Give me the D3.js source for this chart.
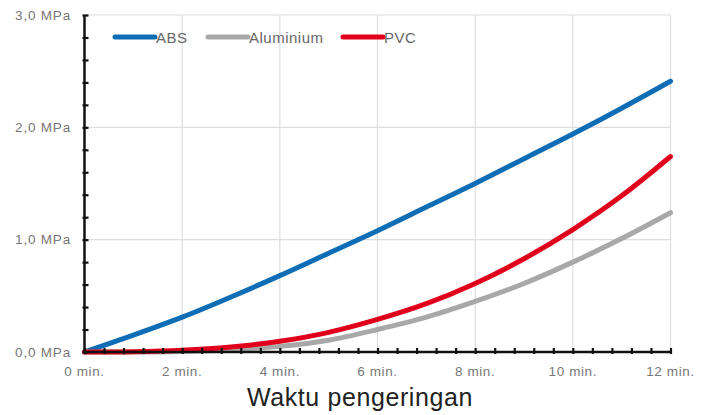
<!DOCTYPE html>
<html>
<head>
<meta charset="utf-8">
<script src="https://cdn.jsdelivr.net/npm/d3@7"></script>
<style>
  body { margin: 0; background: #fff; }
  text { font-family: "Liberation Sans", Arial, sans-serif; }
</style>
</head>
<body>
<svg id="chart" width="709" height="415"></svg>
<script>
// Drying time in minutes
const minutes = [0, 1, 2, 3, 4, 5, 6, 7, 8, 9, 10, 11, 12];

// Pressure in MPa
const absValues = [0, 0.15, 0.31, 0.49, 0.68, 0.88, 1.08, 1.29, 1.50, 1.72, 1.94, 2.17, 2.41];
const aluValues = [0, 0.0, 0.005, 0.02, 0.05, 0.105, 0.20, 0.31, 0.45, 0.61, 0.80, 1.01, 1.24];
const pvcValues = [0, 0.003, 0.016, 0.045, 0.095, 0.175, 0.29, 0.43, 0.61, 0.83, 1.09, 1.39, 1.74];

const seriesNames = ["ABS", "Aluminium", "PVC"];
const seriesColors = ["#0f6db5", "#a8a8a8", "#e1001c"];

const xTicks = [0, 2, 4, 6, 8, 10, 12];
const yTicks = [0, 1, 2, 3];

let svg = d3.select("#chart");

// Scales
let x = d3.scaleLinear().domain([0, 12]).range([84.5, 670.5]);
let y = d3.scaleLinear().domain([0, 3]).range([352, 15]);

// Grid lines
let grid = svg.append("g").attr("class", "grid");
grid.selectAll(".vgrid")
    .data(xTicks.slice(1))
    .enter().append("line")
    .attr("x1", d => x(d)).attr("x2", d => x(d))
    .attr("y1", y(3)).attr("y2", y(0))
    .style("stroke", "#dedede").style("stroke-width", 1.2);
grid.selectAll(".hgrid")
    .data(yTicks.slice(1))
    .enter().append("line")
    .attr("x1", x(0)).attr("x2", x(12))
    .attr("y1", d => y(d)).attr("y2", d => y(d))
    .style("stroke", "#dedede").style("stroke-width", 1.2);

// Lines
let series = [absValues, aluValues, pvcValues];
let lineGen = d3.line()
    .x((d, i) => x(minutes[i]))
    .y(d => y(d))
    .curve(d3.curveCatmullRom.alpha(0.5));

svg.append("g").selectAll("path")
    .data(series)
    .enter().append("path")
    .attr("d", lineGen)
    .style("fill", "none")
    .style("stroke", (d, i) => seriesColors[i])
    .style("stroke-width", 5)
    .style("stroke-linecap", "round");

// Axes with small crossing ticks
let xMinor = d3.range(0, 12.001, 0.4);
let yMinor = d3.range(0, 3.001, 0.2);

let xAxis = d3.axisBottom(x).tickValues(xMinor).tickSize(4).tickFormat("");
let yAxis = d3.axisLeft(y).tickValues(yMinor).tickSize(4).tickFormat("");

function styleAxis(g) {
    g.select(".domain").remove();
    g.selectAll(".tick line").style("stroke", "#111").style("stroke-width", 2.2);
}

let gx = svg.append("g")
    .attr("transform", `translate(0,${y(0) - 2})`)
    .call(xAxis.tickSizeOuter(0));
gx.selectAll(".tick line").attr("y1", -2).attr("y2", 4);
styleAxis(gx);

let gy = svg.append("g")
    .attr("transform", `translate(${x(0) + 2},0)`)
    .call(yAxis.tickSizeOuter(0));
gy.selectAll(".tick line").attr("x1", 2).attr("x2", -4);
styleAxis(gy);

svg.append("line")
    .attr("x1", x(0)).attr("x2", x(12))
    .attr("y1", y(0)).attr("y2", y(0))
    .style("stroke", "#111").style("stroke-width", 2.5);
svg.append("line")
    .attr("x1", x(0)).attr("x2", x(0))
    .attr("y1", y(0)).attr("y2", y(3))
    .style("stroke", "#111").style("stroke-width", 2.5);

// Tick labels
svg.append("g").selectAll("text")
    .data(xTicks)
    .enter().append("text")
    .attr("x", d => x(d))
    .attr("y", 376)
    .attr("text-anchor", "middle")
    .style("font-size", "13.5px")
    .style("letter-spacing", "0.6px")
    .style("fill", "#777")
    .text(d => d + " min.");

svg.append("g").selectAll("text")
    .data(yTicks)
    .enter().append("text")
    .attr("x", 71)
    .attr("y", d => y(d) + 4.5)
    .attr("text-anchor", "end")
    .style("font-size", "13.5px")
    .style("letter-spacing", "0.8px")
    .style("fill", "#777")
    .text(d => d3.format(".1f")(d).replace(".", ",") + " MPa");

// Axis title
svg.append("text")
    .attr("x", 360)
    .attr("y", 406)
    .attr("text-anchor", "middle")
    .style("font-size", "25px")
    .style("letter-spacing", "0.6px")
    .style("fill", "#222")
    .text("Waktu pengeringan");

// Legend
const legendX = [115, 208, 343];
let legend = svg.append("g").selectAll("g")
    .data(seriesNames)
    .enter().append("g")
    .attr("transform", (d, i) => `translate(${legendX[i]},37)`);
legend.append("line")
    .attr("x1", 0).attr("x2", 40)
    .style("stroke", (d, i) => seriesColors[i])
    .style("stroke-width", 5)
    .style("stroke-linecap", "round");
legend.append("text")
    .attr("x", 41)
    .attr("y", 5.5)
    .style("font-size", "15px")
    .style("letter-spacing", "0.5px")
    .style("fill", "#666")
    .text(d => d);
</script>
</body>
</html>
